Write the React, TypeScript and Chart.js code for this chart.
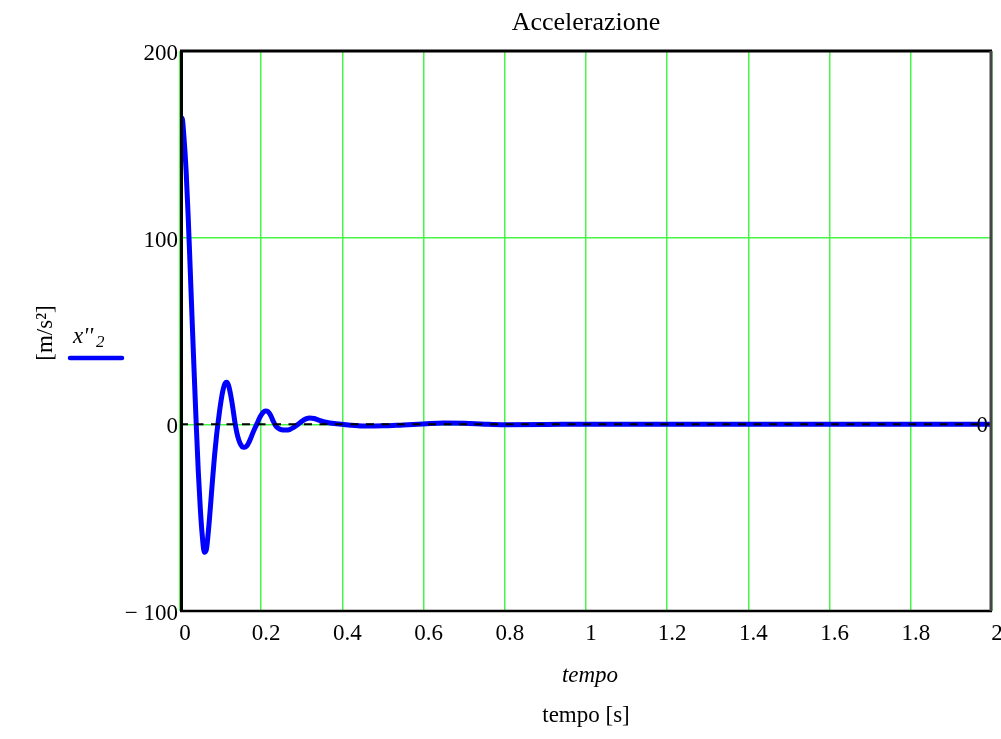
import React, { useEffect, useRef } from "react";
import { Chart, registerables } from "chart.js";

Chart.register(...registerables);

// ---- data ----
const timeValues = [
  0, 0.005, 0.01, 0.015, 0.02, 0.025, 0.03, 0.035, 0.04, 0.045, 0.05, 0.055, 0.06, 0.065, 0.07,
  0.075, 0.08, 0.085, 0.09, 0.095, 0.1, 0.105, 0.11, 0.115, 0.12, 0.125, 0.13, 0.135, 0.14,
  0.145, 0.15, 0.155, 0.16, 0.165, 0.17, 0.175, 0.18, 0.185, 0.19, 0.195, 0.2, 0.205, 0.21,
  0.215, 0.22, 0.225, 0.23, 0.235, 0.24, 0.245, 0.25, 0.26, 0.27, 0.28, 0.29, 0.3, 0.31, 0.32,
  0.33, 0.34, 0.35, 0.36, 0.38, 0.4, 0.42, 0.45, 0.5, 0.55, 0.6, 0.65, 0.7, 0.75, 0.8, 0.9, 1.0,
  1.1, 1.2, 1.4, 1.6, 1.8, 2.0,
];
const accelValues = [
  158, 164, 153, 136, 112, 84, 55, 27, 0, -25, -45, -60, -68.5, -67, -57,
  -44, -30, -17, -6, 3, 11, 17.5, 21.5, 22.5, 20.5, 15.5, 9, 1.5, -4.5,
  -8.5, -11, -12.2, -12.3, -11.5, -9.5, -7, -4.3, -1.8, 0.5, 3, 5, 6.5, 7.2,
  7.1, 6, 4, 1.5, -0.5, -1.8, -2.5, -2.9, -3.1, -2.8, -1.6, -0.1, 1.6, 2.9, 3.4,
  3.1, 2.4, 1.7, 1.1, 0.4, 0, -0.5, -0.9, -0.8, -0.3, 0.2, 0.7, 0.6, 0.1, -0.2, -0.1, 0.1,
  0.1, 0, 0, 0, 0, 0,
];
const markerX = [0, 2];
const markerY = [0, 0];
const markerLabel = "0";

const xTickValues = [0, 0.2, 0.4, 0.6, 0.8, 1, 1.2, 1.4, 1.6, 1.8, 2];
const xTickLabels = ["0", "0.2", "0.4", "0.6", "0.8", "1", "1.2", "1.4", "1.6", "1.8", "2"];
const yTickValues = [-100, 0, 100, 200];
const yTickLabels = ["\u2212 100", "0", "100", "200"];

const chartTitle = "Accelerazione";
const xAxisTitle = "tempo";
const xAxisSubtitle = "tempo [s]";
const yAxisTitle = "[m/s\u00B2]";
const seriesName = "x''";
const seriesSub = "2";

const FONT = "'Liberation Serif', 'Times New Roman', serif";
const GRID = "rgb(70, 245, 70)";
const BLUE = "#0000ff";

const decorPlugin = {
  id: "decor",
  afterDatasetsDraw(chart: any) {
    const { ctx, chartArea: a } = chart;
    ctx.save();
    // frame
    ctx.lineCap = "butt";
    ctx.strokeStyle = "#000";
    ctx.lineWidth = 3;
    ctx.beginPath();
    ctx.moveTo(a.left + 1.5, a.bottom + 1);
    ctx.lineTo(a.left + 1.5, a.top);
    ctx.stroke();
    ctx.beginPath();
    ctx.moveTo(a.left, a.top);
    ctx.lineTo(a.right, a.top);
    ctx.stroke();
    ctx.lineWidth = 2.5;
    ctx.beginPath();
    ctx.moveTo(a.left, a.bottom);
    ctx.lineTo(a.right, a.bottom);
    ctx.stroke();
    ctx.strokeStyle = "#444";
    ctx.lineWidth = 3;
    ctx.beginPath();
    ctx.moveTo(a.right - 1, a.top);
    ctx.lineTo(a.right - 1, a.bottom);
    ctx.stroke();

    // marker value label
    const y0 = chart.scales.y.getPixelForValue(markerY[1]);
    ctx.fillStyle = "#000";
    ctx.font = `23px ${FONT}`;
    ctx.textAlign = "right";
    ctx.textBaseline = "middle";
    ctx.fillText(markerLabel, a.right - 4, y0 + 2);
    ctx.restore();
  },
  afterDraw(chart: any) {
    const { ctx, chartArea: a } = chart;
    const cx = (a.left + a.right) / 2;
    ctx.save();
    ctx.fillStyle = "#000";
    ctx.textBaseline = "middle";
    ctx.textAlign = "center";
    ctx.font = `26px ${FONT}`;
    ctx.fillText(chartTitle, cx, 23);

    ctx.font = `italic 23px ${FONT}`;
    ctx.fillText(xAxisTitle, cx + 4, 676);
    ctx.font = `23px ${FONT}`;
    ctx.fillText(xAxisSubtitle, cx, 716);

    // y axis title
    ctx.save();
    ctx.translate(46, (a.top + a.bottom) / 2 + 2);
    ctx.rotate(-Math.PI / 2);
    ctx.font = `23px ${FONT}`;
    ctx.fillText(yAxisTitle, 0, 0);
    ctx.restore();

    // legend
    ctx.textAlign = "left";
    ctx.textBaseline = "alphabetic";
    ctx.font = `italic 23px ${FONT}`;
    ctx.fillText(seriesName, 73, 343);
    const w = ctx.measureText(seriesName).width;
    ctx.font = `italic 17px ${FONT}`;
    ctx.fillText(seriesSub, 73 + w + 3, 347);
    ctx.strokeStyle = BLUE;
    ctx.lineWidth = 4.5;
    ctx.lineCap = "round";
    ctx.beginPath();
    ctx.moveTo(70, 358);
    ctx.lineTo(122, 358);
    ctx.stroke();
    ctx.restore();
  },
};

export default function App() {
  const ref = useRef<HTMLCanvasElement | null>(null);

  useEffect(() => {
    const canvas = ref.current;
    if (!canvas) return;
    const chart = new Chart(canvas, {
      type: "line",
      data: {
        datasets: [
          {
            label: "zero",
            data: markerX.map((x, i) => ({ x, y: markerY[i] })),
            borderColor: "#000",
            borderWidth: 2,
            borderDash: [8, 7.5],
            pointRadius: 0,
            order: 0,
          },
          {
            label: seriesName + seriesSub,
            data: timeValues.map((x, i) => ({ x, y: accelValues[i] })),
            borderColor: BLUE,
            borderWidth: 5,
            pointRadius: 0,
            cubicInterpolationMode: "monotone",
            borderCapStyle: "round",
            borderJoinStyle: "round",
            order: 1,
          },
        ],
      },
      options: {
        responsive: false,
        animation: false,
        events: [],
        layout: { padding: { left: 0, top: 51, right: 9, bottom: 0 } },
        plugins: {
          legend: { display: false },
          title: { display: false },
          tooltip: { enabled: false },
        },
        scales: {
          x: {
            type: "linear",
            min: 0,
            max: 2,
            afterBuildTicks: (s: any) => {
              s.ticks = xTickValues.map((v) => ({ value: v }));
            },
            afterFit: (s: any) => {
              s.height = 128;
              s.paddingLeft = 0;
              s.paddingRight = 0;
            },
            grid: { color: GRID, lineWidth: 1.5, drawTicks: false },
            border: { display: false },
            ticks: {
              color: "#000",
              font: { family: FONT, size: 23 },
              padding: 9,
              labelOffset: 5,
              maxRotation: 0,
              autoSkip: false,
              callback: (v: any) => {
                const i = xTickValues.findIndex((t) => Math.abs(t - Number(v)) < 1e-9);
                return i >= 0 ? xTickLabels[i] : "";
              },
            },
          },
          y: {
            type: "linear",
            min: -100,
            max: 200,
            afterBuildTicks: (s: any) => {
              s.ticks = yTickValues.map((v) => ({ value: v }));
            },
            afterFit: (s: any) => {
              s.width = 180;
              s.paddingTop = 0;
              s.paddingBottom = 0;
            },
            grid: { color: GRID, lineWidth: 1.5, drawTicks: false },
            border: { display: false },
            ticks: {
              color: "#000",
              font: { family: FONT, size: 23 },
              padding: 2,
              labelOffset: 3,
              autoSkip: false,
              callback: (v: any) => {
                const i = yTickValues.indexOf(Number(v));
                return i >= 0 ? yTickLabels[i] : "";
              },
            },
          },
        },
      },
      plugins: [decorPlugin],
    } as any);
    return () => chart.destroy();
  }, []);

  return (
    <div style={{ position: "absolute", left: 0, top: 0, width: 1001, height: 739, background: "#fff" }}>
      <canvas ref={ref} width={1001} height={739} style={{ display: "block", width: 1001, height: 739 }} />
    </div>
  );
}
